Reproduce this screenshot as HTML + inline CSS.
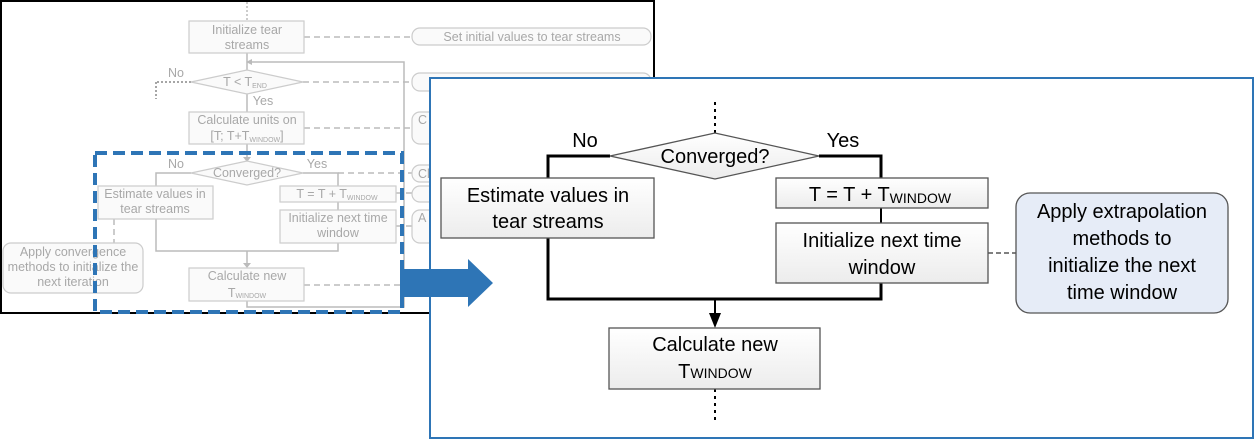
<!DOCTYPE html>
<html><head><meta charset="utf-8"><style>
html,body{margin:0;padding:0;background:#fff;}
svg{display:block;font-family:"Liberation Sans",Arial,sans-serif;}
</style></head><body>
<svg width="1255" height="440" viewBox="0 0 1255 440" xmlns="http://www.w3.org/2000/svg">
<defs>
<linearGradient id="g" x1="0" y1="0" x2="0" y2="1"><stop offset="0" stop-color="#ffffff"/><stop offset="1" stop-color="#ececec"/></linearGradient>
</defs>
<rect x="1" y="1" width="653" height="312" fill="#fff" stroke="#000" stroke-width="2"/>
<g stroke="#bbb" fill="none" stroke-width="1.5">
<line x1="247" y1="2" x2="247" y2="21" stroke-dasharray="2,2"/>
<line x1="304" y1="37" x2="412" y2="37" stroke-dasharray="6,4"/>
<line x1="247" y1="53" x2="247" y2="70"/>
<polyline points="250,62 404,62 404,307 247,307 247,301"/>
<line x1="191" y1="82" x2="156" y2="82" stroke-dasharray="2,2" stroke="#888"/>
<line x1="156" y1="82" x2="156" y2="99" stroke-dasharray="2,2" stroke="#888"/>
<line x1="303" y1="82" x2="412" y2="82" stroke-dasharray="6,4"/>
<line x1="247" y1="94" x2="247" y2="112"/>
<line x1="304" y1="128" x2="412" y2="128" stroke-dasharray="6,4"/>
<line x1="247" y1="144" x2="247" y2="159"/>
<polyline points="191,173 156,173 156,186"/>
<polyline points="303,173 338,173 338,186"/>
<line x1="338" y1="173" x2="412" y2="173" stroke-dasharray="6,4"/>
<line x1="396" y1="193" x2="412" y2="193" stroke-dasharray="6,4"/>
<line x1="396" y1="226" x2="412" y2="226" stroke-dasharray="6,4"/>
<line x1="338" y1="202" x2="338" y2="210"/>
<polyline points="156,219 156,251 338,251 338,243"/>
<line x1="247" y1="251" x2="247" y2="266"/>
<line x1="304" y1="285" x2="412" y2="285" stroke-dasharray="6,4"/>
<line x1="114" y1="219" x2="114" y2="243" stroke-dasharray="6,4"/>
</g>
<g fill="#bbb"><polygon points="246,62 252,59 252,65"/><polygon points="243,157 251,157 247,162"/><polygon points="243,263 251,263 247,268"/></g>
<g fill="#fafafa" stroke="#ccc" stroke-width="1.2">
<rect x="189" y="21" width="115" height="32"/>
<polygon points="191,82 247,70 303,82 247,94"/>
<rect x="189" y="112" width="115" height="32"/>
<polygon points="191,173 247,161 303,173 247,185"/>
<rect x="98" y="186" width="115" height="33"/>
<rect x="280" y="186" width="116" height="16"/>
<rect x="280" y="210" width="116" height="33"/>
<rect x="189" y="268" width="115" height="33"/>
<rect x="412" y="28" width="239" height="17" rx="8"/>
<rect x="412" y="73" width="239" height="18" rx="8"/>
<rect x="412" y="112" width="239" height="32" rx="8"/>
<rect x="412" y="165" width="239" height="17" rx="8"/>
<rect x="412" y="186" width="239" height="16" rx="8"/>
<rect x="412" y="210" width="239" height="33" rx="8"/>
<rect x="3" y="243" width="140" height="50" rx="8"/>
</g>
<g fill="#a8a8a8" font-size="12.5" text-anchor="middle">
<text x="247" y="34">Initialize tear</text><text x="247" y="49">streams</text>
<text x="532" y="41">Set initial values to tear streams</text>
<text x="176" y="77">No</text><text x="263" y="105">Yes</text>
<text x="245" y="86">T &lt; T<tspan font-size="7" dy="2">END</tspan></text>
<text x="247" y="124">Calculate units on</text><text x="247" y="140">[T; T+T<tspan font-size="7" dy="2">WINDOW</tspan><tspan dy="-2">]</tspan></text>
<text x="176" y="168">No</text><text x="317" y="168">Yes</text>
<text x="247" y="177">Converged?</text>
<text x="155" y="198">Estimate values in</text><text x="155" y="213">tear streams</text>
<text x="337" y="198">T = T + T<tspan font-size="7" dy="2">WINDOW</tspan></text>
<text x="338" y="222">Initialize next time</text><text x="338" y="237">window</text>
<text x="247" y="280">Calculate new</text><text x="247" y="297">T<tspan font-size="7" dy="1">WINDOW</tspan></text>
<text x="73" y="256">Apply convergence</text><text x="73" y="271">methods to initialize the</text><text x="73" y="286">next iteration</text>
<text x="418" y="124" text-anchor="start">C</text><text x="418" y="178" text-anchor="start">Cl</text><text x="418" y="222" text-anchor="start">A</text>
</g>
<rect x="95" y="153" width="307" height="159" fill="none" stroke="#2e75b6" stroke-width="4" stroke-dasharray="12,6"/>
<rect x="430" y="78" width="823" height="360" fill="#fff" stroke="#2e75b6" stroke-width="2"/>
<polygon points="400,269 468,269 468,259 493,283 468,307 468,297 400,297" fill="#2e75b6"/>
<g stroke="#000" fill="none">
<line x1="715" y1="102" x2="715" y2="133" stroke-width="2" stroke-dasharray="3,4"/>
<polyline points="610,156 548,156 548,178" stroke-width="3"/>
<polyline points="819,156 881,156 881,178" stroke-width="3"/>
<line x1="881" y1="208" x2="881" y2="223" stroke-width="2"/>
<polyline points="548,238 548,299 881,299 881,283" stroke-width="3"/>
<line x1="715" y1="299" x2="715" y2="315" stroke-width="2"/>
<line x1="715" y1="389" x2="715" y2="420" stroke-width="2" stroke-dasharray="3,4"/>
<line x1="988" y1="253" x2="1016" y2="253" stroke-width="1" stroke-dasharray="5,3"/>
</g>
<polygon points="709,313 721,313 715,328" fill="#000"/>
<g stroke="#555" stroke-width="1.3" fill="url(#g)">
<polygon points="610,156 715,133 819,156 715,179"/>
<rect x="441" y="178" width="213" height="60"/>
<rect x="776" y="178" width="212" height="30"/>
<rect x="776" y="223" width="212" height="60"/>
<rect x="609" y="328" width="211" height="61"/>
</g>
<rect x="1016" y="193" width="212" height="120" rx="14" fill="#e6ecf7" stroke="#555" stroke-width="1.3"/>
<g fill="#000" font-size="20" text-anchor="middle">
<text x="585" y="147">No</text><text x="843" y="147">Yes</text>
<text x="715" y="163">Converged?</text>
<text x="548" y="202">Estimate values in</text><text x="548" y="228">tear streams</text>
<text x="880" y="201">T = T + T<tspan font-size="14" dy="2">WINDOW</tspan></text>
<text x="882" y="247">Initialize next time</text><text x="882" y="274">window</text>
<text x="715" y="351">Calculate new</text><text x="715" y="378">T<tspan font-size="14">WINDOW</tspan></text>
<text x="1122" y="218">Apply extrapolation</text><text x="1122" y="245">methods to</text><text x="1122" y="272">initialize the next</text><text x="1122" y="299">time window</text>
</g>
</svg>
</body></html>
